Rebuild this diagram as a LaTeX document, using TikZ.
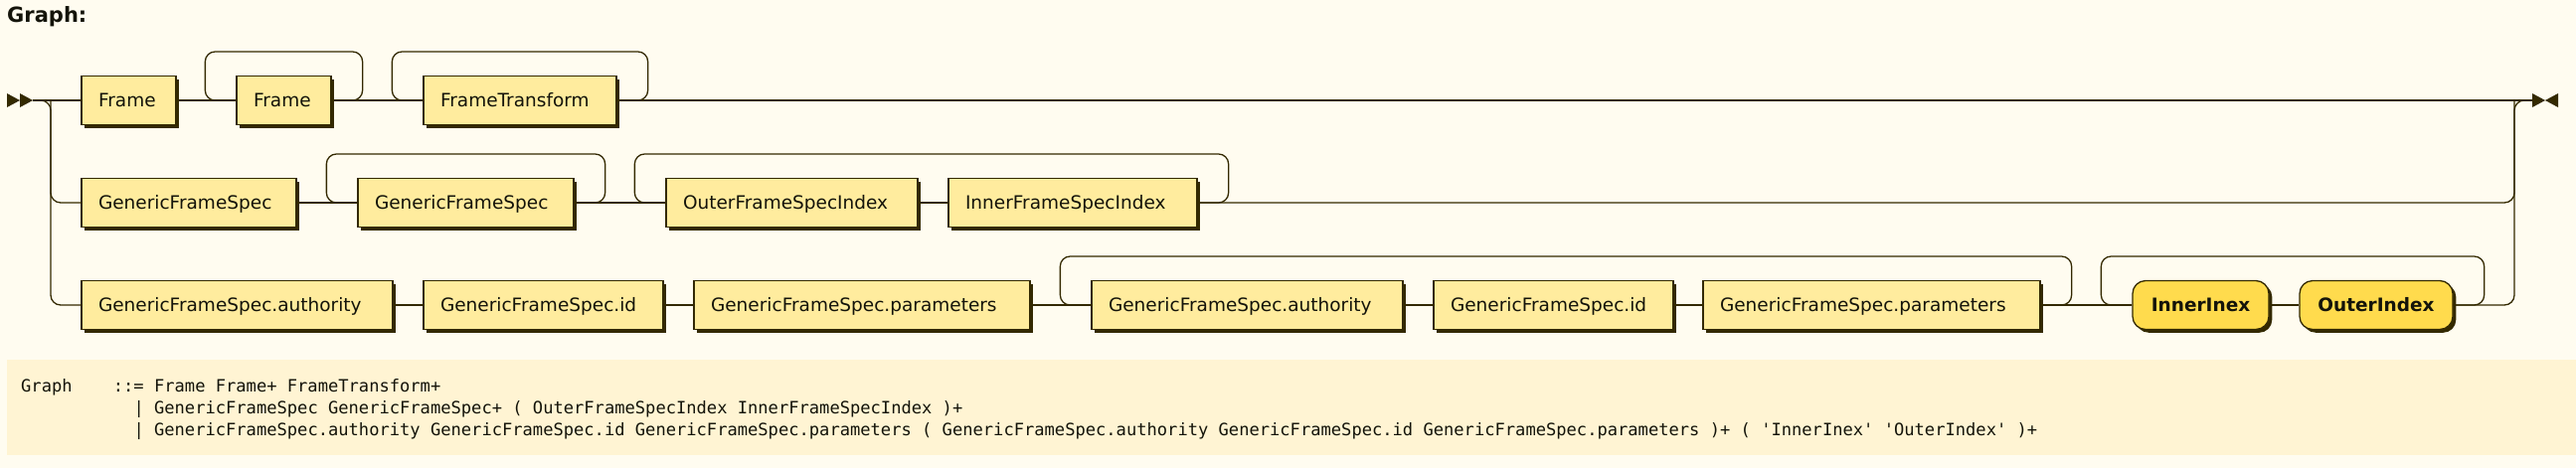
\documentclass[tikz,border=0pt]{standalone}
\usepackage{fontspec}
\setmainfont{DejaVu Sans}
\setmonofont{DejaVu Sans Mono}
\usetikzlibrary{shadows}
\definecolor{bgc}{HTML}{FFFCF0}
\definecolor{lc}{HTML}{332900}
\definecolor{ntf}{HTML}{FFEC9E}
\definecolor{tf}{HTML}{FFDB4D}
\definecolor{gbg}{HTML}{FFF4D3}
\definecolor{txt}{HTML}{14140A}
\tikzset{
  ln/.style={draw=lc, line width=1.3pt},
  rln/.style={draw=lc, line width=1.3pt, rounded corners=10pt},
  nt/.style={draw=lc, fill=ntf, line width=1.3pt, minimum height=49pt,
    inner xsep=17pt, inner ysep=0pt, text height=13.5pt, text depth=0pt,
    text width=#1, align=left, text=txt, font=\fontsize{18.5}{22}\selectfont,
    general shadow={fill=lc, shadow xshift=3.3pt, shadow yshift=-3.3pt}},
  tm/.style={draw=lc, fill=tf, line width=1.3pt, minimum height=49pt,
    minimum width=#1, rounded corners=13pt,
    inner xsep=0pt, inner ysep=0pt, text height=13.5pt, text depth=0pt,
    text=txt, font=\bfseries\fontsize{18.5}{22}\selectfont,
    general shadow={fill=lc, shadow xshift=3.3pt, shadow yshift=-3.3pt}},
  gt/.style={anchor=base west, inner sep=0pt, text=txt,
    font=\ttfamily\fontsize{17.1}{20}\selectfont}
}
\begin{document}
\begin{tikzpicture}[x=1pt,y=-1pt]
\fill[bgc] (0,0) rectangle (2591,471);
\useasboundingbox (0,0) rectangle (2591,471);

\node[anchor=base west, inner sep=0pt, text=txt, font=\bfseries\fontsize{21}{25}\selectfont] (title) at (7,22) {Graph:};

% start and end markers
\fill[lc] (7,94) -- (20,101) -- (7,108) -- cycle;
\fill[lc] (20,94) -- (33,101) -- (20,108) -- cycle;
\fill[lc] (2547,94) -- (2560,101) -- (2547,108) -- cycle;
\fill[lc] (2573,94) -- (2560,101) -- (2573,108) -- cycle;
\coordinate (s) at (33,101);
\coordinate (e) at (2547,101);
\coordinate (lv) at (51,101);
\coordinate (rv) at (2529,101);

% row 1
\node[nt=61pt] (f1) at (129.5,101) {Frame};
\node[nt=61pt] (f2) at (285.5,101) {Frame};
\node[nt=160pt] (ft) at (523,101) {FrameTransform};
% row 2
\node[nt=182pt] (g1) at (190,204) {GenericFrameSpec};
\node[nt=183pt] (g2) at (468.5,204) {GenericFrameSpec};
\node[nt=219pt] (o) at (796.5,204) {OuterFrameSpecIndex};
\node[nt=216pt] (i) at (1079,204) {InnerFrameSpecIndex};
% row 3
\node[nt=279pt] (a1) at (238.5,307) {GenericFrameSpec.authority};
\node[nt=207pt] (d1) at (546.5,307) {GenericFrameSpec.id};
\node[nt=304pt] (p1) at (867,307) {GenericFrameSpec.parameters};
\node[nt=279pt] (a2) at (1254.5,307) {GenericFrameSpec.authority};
\node[nt=207pt] (d2) at (1562.5,307) {GenericFrameSpec.id};
\node[nt=305pt] (p2) at (1882.5,307) {GenericFrameSpec.parameters};
\node[tm=137pt] (t1) at (2213.5,307) {InnerInex};
\node[tm=154pt] (t2) at (2390,307) {OuterIndex};

% straight connectors
\draw[ln] (s) -- (f1.west) (f1.east) -- (f2.west) (f2.east) -- (ft.west) (ft.east) -- (e);
\draw[ln] (g1.east) -- (g2.west) (g2.east) -- (o.west) (o.east) -- (i.west);
\draw[ln] (a1.east) -- (d1.west) (d1.east) -- (p1.west) (p1.east) -- (a2.west)
  (a2.east) -- (d2.west) (d2.east) -- (p2.west) (p2.east) -- (t1.west) (t1.east) -- (t2.west);

% branches
\draw[rln] (s) -| (lv |- a1.west) -- (a1.west);
\draw[rln] (lv) |- (g1.west);
\draw[rln] (t2.east) -| (rv) -- (e);
\draw[rln] (i.east) -| (rv);

% loops
\draw[rln] (f2.west) -| ([xshift=-31pt,yshift=49pt]f2.west) -| ([xshift=31pt]f2.east) -- (f2.east);
\draw[rln] (ft.west) -| ([xshift=-31pt,yshift=49pt]ft.west) -| ([xshift=31pt]ft.east) -- (ft.east);
\draw[rln] (g2.west) -| ([xshift=-31pt,yshift=49pt]g2.west) -| ([xshift=31pt]g2.east) -- (g2.east);
\draw[rln] (o.west) -| ([xshift=-31pt,yshift=49pt]o.west) -| ([xshift=31pt]i.east) -- (i.east);
\draw[rln] (a2.west) -| ([xshift=-31pt,yshift=49pt]a2.west) -| ([xshift=31pt]p2.east) -- (p2.east);
\draw[rln] (t1.west) -| ([xshift=-31pt,yshift=49pt]t1.west) -| ([xshift=31pt]t2.east) -- (t2.east);

% grammar
\fill[gbg] (7,362) rectangle (2591,458);
\node[gt] (gr0) at (21,394) {Graph};
\node[gt] (gr1) at (113.7,394) {::= Frame Frame+ FrameTransform+};
\node[gt] (gr2) at (134.3,416) {| GenericFrameSpec GenericFrameSpec+ ( OuterFrameSpecIndex InnerFrameSpecIndex )+};
\node[gt] (gr3) at (134.3,438) {| GenericFrameSpec.authority GenericFrameSpec.id GenericFrameSpec.parameters ( GenericFrameSpec.authority GenericFrameSpec.id GenericFrameSpec.parameters )+ ( 'InnerInex' 'OuterIndex' )+};
\end{tikzpicture}
\end{document}
